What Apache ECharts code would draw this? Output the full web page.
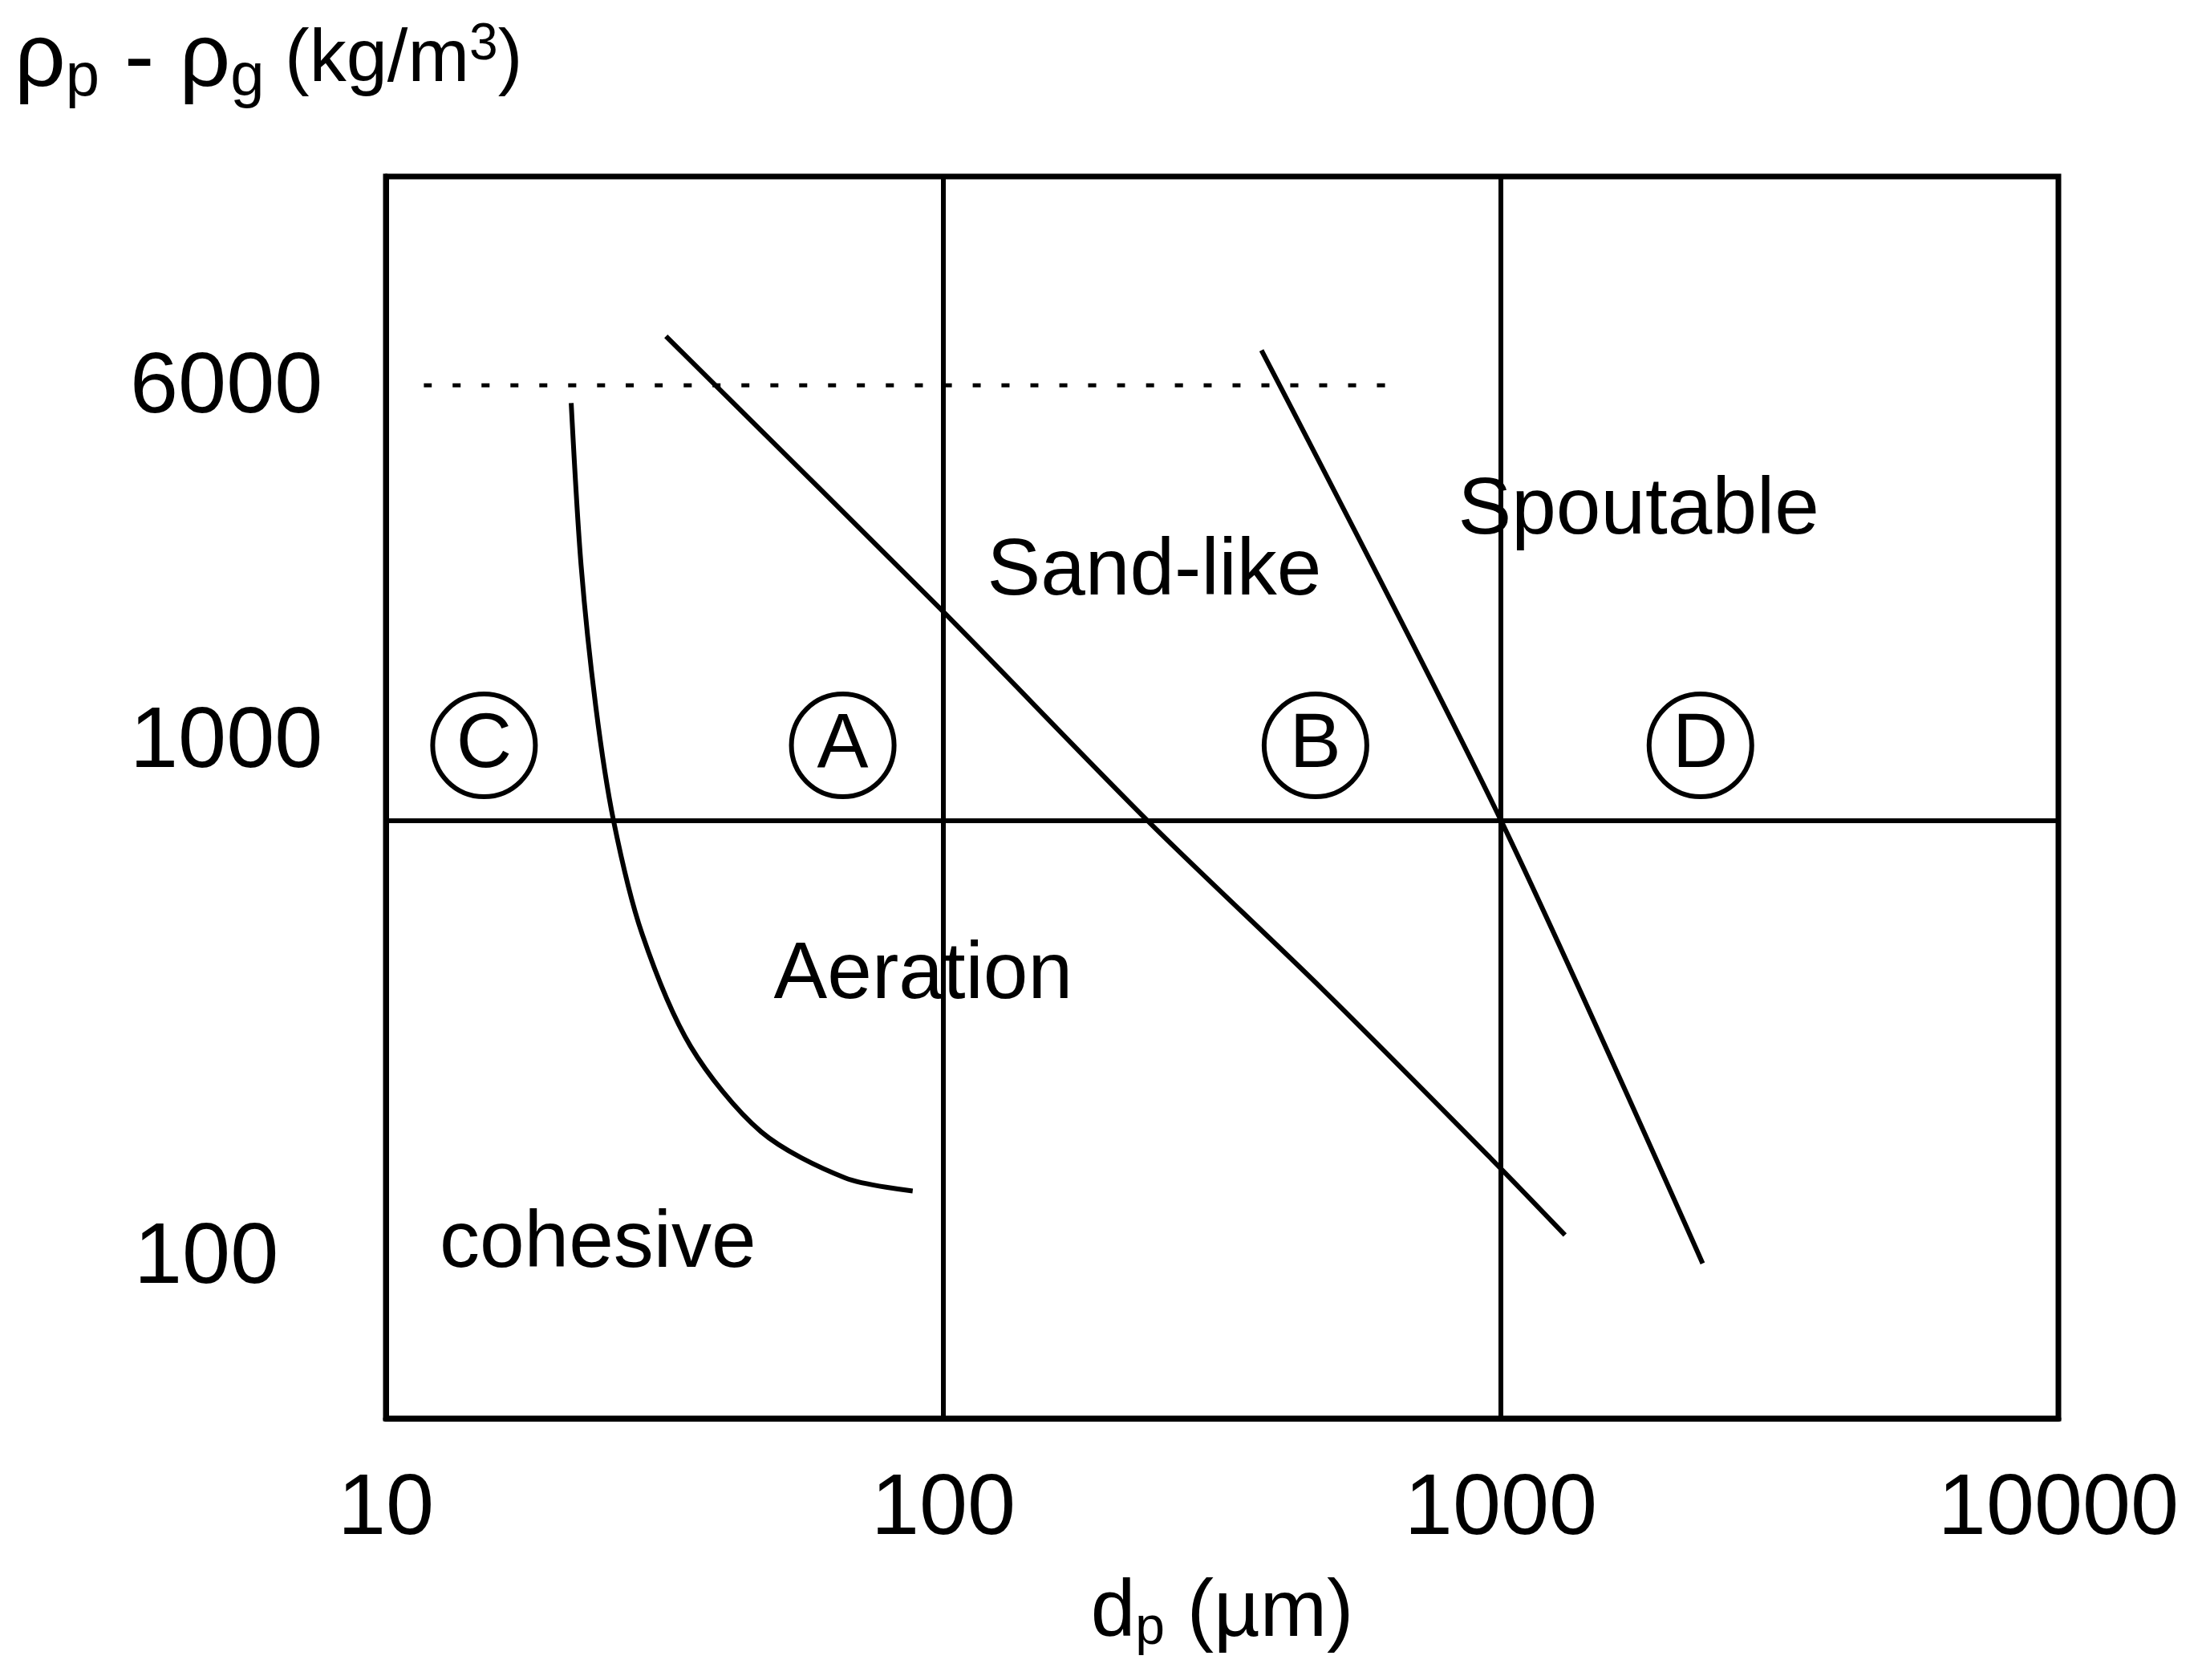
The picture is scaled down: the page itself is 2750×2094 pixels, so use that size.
<!DOCTYPE html>
<html>
<head>
<meta charset="utf-8" />
<title>Geldart diagram</title>
<script src="https://cdn.jsdelivr.net/npm/echarts@6/dist/echarts.min.js"></script>
<style>html,body{margin:0;background:#fff}</style>
</head>
<body>
<div id="main" style="width:2750px;height:2094px;"></div>
<script>
// data (x: dp in um, y: rho_p - rho_g in kg/m3)
var xTicks = [10, 100, 1000, 10000];
var yTickLabels = ['6000', '1000', '100'];
var cohesiveBoundary = [[21.5,5580],[22.4,2855],[23.8,1597],[25.6,1000],[28.8,627],[35.2,394],[47.1,277],[66.7,229],[88.1,217]];
var sandBoundary = [[31.8,7345],[98.4,2399],[232,1000],[480,497],[964,247],[1303,181]];
var spoutBoundary = [[372,6934],[1000,1000],[2301,161]];
var dottedLine = [[11.7,6000],[641,6000]];
var groupMarks = [['C',15,1361],['A',66,1361],['B',465,1361],['D',2280,1361]];
var regionLabels = [['Sand-like',239,2775],['Spoutable',1766,3565],['Aeration',92,527],['cohesive',24,174]];

var myChart = echarts.init(document.getElementById('main'));
var font = 'Liberation Sans, Arial, sans-serif';
function line(d, dash) {
    return {type:'line', data:d, symbol:'none', smooth:0.3,
        lineStyle:{color:'#000', width: dash ? 5 : 6, type: dash ? [10,26] : 'solid'}};
}
var option = {
    animation:false,
    grid:{left:481, right:184, top:220, bottom:326, show:true, borderColor:'#000', borderWidth:7},
    xAxis:{type:'log', min:10, max:10000, axisTick:{show:false}, splitLine:{show:false},
        axisLine:{lineStyle:{color:'#000', width:7}},
        axisLabel:{margin:60, fontSize:108, color:'#000', fontFamily:font,
            formatter:function(v){ return xTicks.indexOf(Math.round(v))>=0 ? String(Math.round(v)) : ''; }},
        name:'{a|d}{s|p}{a| (µm)}', nameLocation:'middle', nameGap:190,
        nameTextStyle:{rich:{a:{fontSize:100,fontFamily:font,color:'#000'},
            s:{fontSize:66,fontFamily:font,color:'#000',padding:[40,0,0,0]}}}},
    yAxis:{type:'log', min:85, max:14190, axisLabel:{show:false}, axisTick:{show:false},
        splitLine:{show:false}, axisLine:{lineStyle:{color:'#000', width:7}}},
    series:[
        line(cohesiveBoundary), line(sandBoundary), line(spoutBoundary), line(dottedLine, true),
        {type:'line', data:[], markLine:{silent:true, symbol:'none', label:{show:false},
            lineStyle:{color:'#000', width:6, type:'solid'},
            data:[{xAxis:100},{xAxis:1000},{yAxis:1000}]}},
        {type:'scatter', data:groupMarks.map(function(g){return {name:g[0], value:[g[1],g[2]]};}),
            symbol:'circle', symbolSize:128, z:5,
            itemStyle:{color:'#fff', borderColor:'#000', borderWidth:6, opacity:1},
            label:{show:true, position:'inside', formatter:'{b}', fontSize:96, color:'#000', fontFamily:font}},
        {type:'scatter', data:regionLabels.map(function(g){return {name:g[0], value:[g[1],g[2]]};}),
            symbolSize:0, itemStyle:{opacity:1},
            label:{show:true, position:'inside', formatter:'{b}', fontSize:100, color:'#000', fontFamily:font}}
    ],
    graphic:[
        {type:'text', left:162, top:430, style:{text:yTickLabels[0], fontSize:108, fill:'#000', fontFamily:font}},
        {type:'text', left:162, top:872, style:{text:yTickLabels[1], fontSize:108, fill:'#000', fontFamily:font}},
        {type:'text', left:167, top:1515, style:{text:yTickLabels[2], fontSize:108, fill:'#000', fontFamily:font}},
        {type:'text', left:18, top:20, style:{
            text:'{a|ρ}{s|p}{a| - ρ}{s|g}{b| (kg/m}{u|3}{b|)}',
            rich:{a:{fontSize:112,fontFamily:font,fill:'#000'},
                s:{fontSize:76,fontFamily:font,fill:'#000',padding:[44,0,0,0]},
                b:{fontSize:92,fontFamily:font,fill:'#000'},
                u:{fontSize:64,fontFamily:font,fill:'#000',padding:[0,0,40,0]}}}}
    ]
};
myChart.setOption(option);
</script>
</body>
</html>
